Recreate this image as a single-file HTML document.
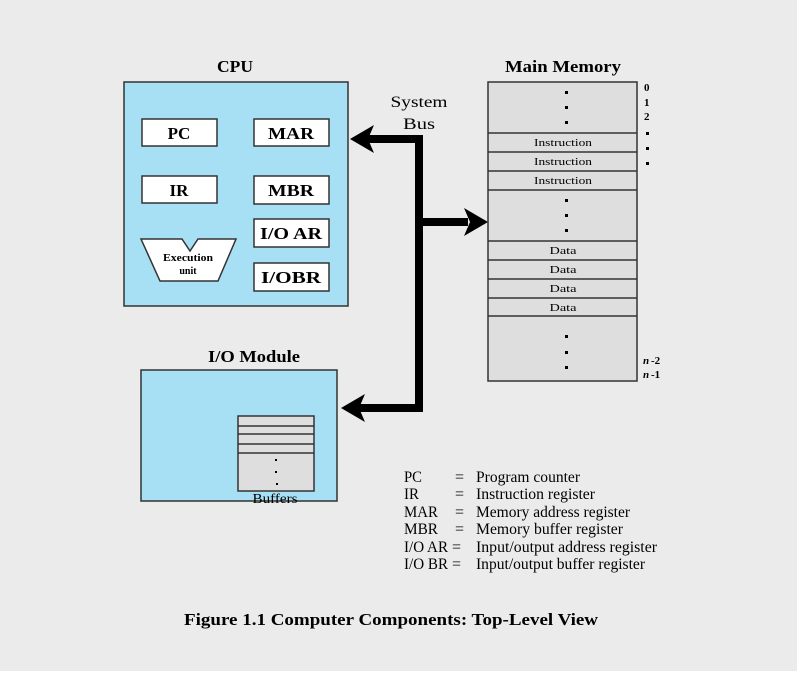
<!DOCTYPE html>
<html><head><style>
body{margin:0;background:#fff;}
svg text{font-family:"Liberation Serif",serif;}
</style></head><body>
<svg width="797" height="671" viewBox="0 0 797 671" xmlns="http://www.w3.org/2000/svg">
<rect x="0" y="0" width="797" height="671" fill="#ebebeb"/>
<!-- CPU -->
<text x="235" y="72" font-size="17" font-weight="bold" text-anchor="middle" textLength="36" lengthAdjust="spacingAndGlyphs">CPU</text>
<rect x="124" y="82" width="224" height="224" fill="#a7e0f5" stroke="#333" stroke-width="1.5"/>
<g fill="#fff" stroke="#333" stroke-width="1.5">
<rect x="142" y="119" width="75" height="27"/>
<rect x="254" y="119" width="75" height="27"/>
<rect x="142" y="176" width="75" height="27"/>
<rect x="254" y="176" width="75" height="28"/>
<rect x="254" y="219" width="75" height="28"/>
<rect x="254" y="263" width="75" height="28"/>
<polygon points="141,239 182,239 190,251 198,239 236,239 218,281 160,281"/>
</g>
<g font-size="17" font-weight="bold" text-anchor="middle">
<text x="179" y="139">PC</text>
<text x="291" y="139" textLength="46" lengthAdjust="spacingAndGlyphs">MAR</text>
<text x="179" y="196">IR</text>
<text x="291" y="196" textLength="46" lengthAdjust="spacingAndGlyphs">MBR</text>
<text x="291" y="239" textLength="62" lengthAdjust="spacingAndGlyphs">I/O AR</text>
<text x="291" y="283" textLength="60" lengthAdjust="spacingAndGlyphs">I/OBR</text>
</g>
<text x="188" y="261" font-size="10" font-weight="bold" text-anchor="middle" textLength="50" lengthAdjust="spacingAndGlyphs">Execution</text>
<text x="188" y="274" font-size="10" font-weight="bold" text-anchor="middle">unit</text>
<!-- Bus -->
<text x="419" y="107" font-size="16" text-anchor="middle" textLength="57" lengthAdjust="spacingAndGlyphs">System</text>
<text x="419" y="129" font-size="16" text-anchor="middle" textLength="32" lengthAdjust="spacingAndGlyphs">Bus</text>
<g fill="#000">
<rect x="415" y="135" width="8" height="277"/>
<rect x="368" y="135" width="55" height="8"/>
<polygon points="350,139 374,125 368,139 374,153"/>
<rect x="423" y="218" width="45" height="8"/>
<polygon points="488,222 464,208 470,222 464,236"/>
<rect x="358" y="404" width="65" height="8"/>
<polygon points="341,408 365,394 359,408 365,422"/>
</g>
<!-- Memory -->
<text x="563" y="72" font-size="17" font-weight="bold" text-anchor="middle" textLength="116" lengthAdjust="spacingAndGlyphs">Main Memory</text>
<rect x="488" y="82" width="149" height="299" fill="#dedede" stroke="#333" stroke-width="1.5"/>
<g stroke="#333" stroke-width="1.5">
<line x1="488" y1="133" x2="637" y2="133"/>
<line x1="488" y1="152" x2="637" y2="152"/>
<line x1="488" y1="171" x2="637" y2="171"/>
<line x1="488" y1="190" x2="637" y2="190"/>
<line x1="488" y1="241" x2="637" y2="241"/>
<line x1="488" y1="260" x2="637" y2="260"/>
<line x1="488" y1="279" x2="637" y2="279"/>
<line x1="488" y1="298" x2="637" y2="298"/>
<line x1="488" y1="316" x2="637" y2="316"/>
</g>
<g fill="#000">
<rect x="565" y="91" width="3" height="3"/><rect x="565" y="106" width="3" height="3"/><rect x="565" y="121" width="3" height="3"/>
<rect x="565" y="199" width="3" height="3"/><rect x="565" y="214" width="3" height="3"/><rect x="565" y="229" width="3" height="3"/>
<rect x="565" y="335" width="3" height="3"/><rect x="565" y="351" width="3" height="3"/><rect x="565" y="366" width="3" height="3"/>
<rect x="646" y="132" width="3" height="3"/><rect x="646" y="147" width="3" height="3"/><rect x="646" y="162" width="3" height="3"/>
</g>
<g font-size="11" text-anchor="middle">
<text x="563" y="146" textLength="58" lengthAdjust="spacingAndGlyphs">Instruction</text>
<text x="563" y="165" textLength="58" lengthAdjust="spacingAndGlyphs">Instruction</text>
<text x="563" y="184" textLength="58" lengthAdjust="spacingAndGlyphs">Instruction</text>
<text x="563" y="254" textLength="27" lengthAdjust="spacingAndGlyphs">Data</text>
<text x="563" y="273" textLength="27" lengthAdjust="spacingAndGlyphs">Data</text>
<text x="563" y="292" textLength="27" lengthAdjust="spacingAndGlyphs">Data</text>
<text x="563" y="311" textLength="27" lengthAdjust="spacingAndGlyphs">Data</text>
</g>
<g font-size="11" font-weight="bold">
<text x="644" y="91">0</text>
<text x="644" y="106">1</text>
<text x="644" y="120">2</text>
<text x="643" y="364" font-style="italic">n</text><text x="651" y="364">-2</text>
<text x="643" y="378" font-style="italic">n</text><text x="651" y="378">-1</text>
</g>
<!-- IO module -->
<text x="254" y="362" font-size="17" font-weight="bold" text-anchor="middle" textLength="92" lengthAdjust="spacingAndGlyphs">I/O Module</text>
<rect x="141" y="370" width="196" height="131" fill="#a7e0f5" stroke="#333" stroke-width="1.5"/>
<rect x="238" y="416" width="76" height="75" fill="#dedede" stroke="#333" stroke-width="1.5"/>
<g stroke="#333" stroke-width="1.5">
<line x1="238" y1="426" x2="314" y2="426"/>
<line x1="238" y1="434" x2="314" y2="434"/>
<line x1="238" y1="444" x2="314" y2="444"/>
<line x1="238" y1="453" x2="314" y2="453"/>
</g>
<g fill="#000"><rect x="275" y="459" width="2" height="2"/><rect x="275" y="471" width="2" height="2"/><rect x="276" y="483" width="2" height="2"/></g>
<text x="275" y="503" font-size="14" text-anchor="middle" textLength="45" lengthAdjust="spacingAndGlyphs">Buffers</text>
<!-- legend -->
<g font-size="16">
<text x="404" y="482" textLength="18" lengthAdjust="spacingAndGlyphs">PC</text><text x="455" y="482">=</text><text x="476" y="482" textLength="104" lengthAdjust="spacingAndGlyphs">Program counter</text>
<text x="404" y="499" textLength="15" lengthAdjust="spacingAndGlyphs">IR</text><text x="455" y="499">=</text><text x="476" y="499" textLength="119" lengthAdjust="spacingAndGlyphs">Instruction register</text>
<text x="404" y="517" textLength="34" lengthAdjust="spacingAndGlyphs">MAR</text><text x="455" y="517">=</text><text x="476" y="517" textLength="154" lengthAdjust="spacingAndGlyphs">Memory address register</text>
<text x="404" y="534" textLength="34" lengthAdjust="spacingAndGlyphs">MBR</text><text x="455" y="534">=</text><text x="476" y="534" textLength="147" lengthAdjust="spacingAndGlyphs">Memory buffer register</text>
<text x="404" y="552" textLength="44" lengthAdjust="spacingAndGlyphs">I/O AR</text><text x="452" y="552">=</text><text x="476" y="552" textLength="181" lengthAdjust="spacingAndGlyphs">Input/output address register</text>
<text x="404" y="569" textLength="44" lengthAdjust="spacingAndGlyphs">I/O BR</text><text x="452" y="569">=</text><text x="476" y="569" textLength="169" lengthAdjust="spacingAndGlyphs">Input/output buffer register</text>
</g>
<text x="391" y="625" font-size="17" font-weight="bold" text-anchor="middle" textLength="414" lengthAdjust="spacingAndGlyphs">Figure 1.1  Computer Components: Top-Level View</text>
</svg>
</body></html>
